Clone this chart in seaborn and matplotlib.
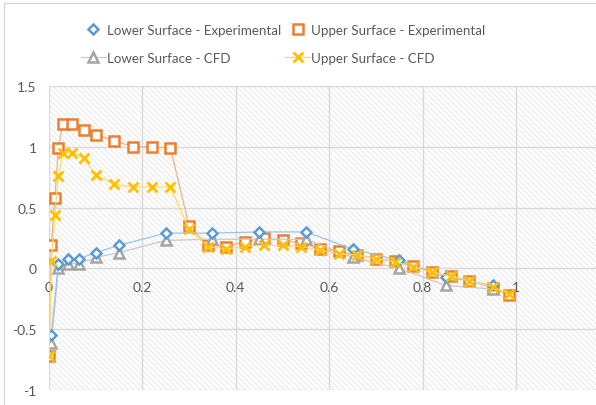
import matplotlib
matplotlib.use("Agg")
import matplotlib.pyplot as plt
import seaborn as sns
import numpy as np
from matplotlib.lines import Line2D
from matplotlib.patches import Rectangle

# ---- data ----
upper_x = [0.0, 0.005, 0.0125, 0.02, 0.03, 0.05, 0.075, 0.1, 0.14, 0.18, 0.22, 0.26,
           0.30, 0.34, 0.38, 0.42, 0.46, 0.50, 0.54, 0.58, 0.62, 0.66, 0.70, 0.74,
           0.78, 0.82, 0.86, 0.90, 0.95, 0.985]
upper_exp = [-0.72, 0.19, 0.58, 0.99, 1.19, 1.19, 1.14, 1.10, 1.05, 1.00, 1.00, 0.99,
             0.35, 0.19, 0.18, 0.22, 0.25, 0.23, 0.21, 0.16, 0.14, 0.11, 0.08, 0.06,
             0.02, -0.03, -0.065, -0.10, -0.16, -0.22]
upper_cfd = [-0.72, 0.06, 0.44, 0.76, 0.95, 0.95, 0.91, 0.77, 0.69, 0.67, 0.67, 0.67,
             0.32, 0.18, 0.16, 0.18, 0.19, 0.19, 0.18, 0.15, 0.12, 0.11, 0.08, 0.055,
             0.01, -0.03, -0.065, -0.10, -0.15, -0.21]
lower_x = [0.005, 0.02, 0.04, 0.065, 0.1, 0.15, 0.25, 0.35, 0.45, 0.55, 0.65, 0.75, 0.85, 0.95]
lower_exp = [-0.55, 0.04, 0.08, 0.08, 0.13, 0.19, 0.29, 0.29, 0.30, 0.30, 0.16, 0.065, -0.07, -0.14]
lower_cfd = [-0.615, 0.0, 0.04, 0.04, 0.09, 0.13, 0.23, 0.24, 0.24, 0.24, 0.09, 0.0, -0.14, -0.17]

labels = ["Lower Surface - Experimental", "Upper Surface - Experimental",
          "Lower Surface - CFD", "Upper Surface - CFD"]
x_ticks = [0, 0.2, 0.4, 0.6, 0.8, 1]
x_tick_labels = ["0", "0.2", "0.4", "0.6", "0.8", "1"]
y_ticks = [-1, -0.5, 0, 0.5, 1, 1.5]
y_tick_labels = ["-1", "-0.5", "0", "0.5", "1", "1.5"]

# ---- style ----
sns.set_style("white")
plt.rcParams['font.family'] = ['Lato', 'DejaVu Sans']
plt.rcParams['hatch.linewidth'] = 0.7

BLUE = "#5B9BD5"
ORANGE = "#ED7D31"
GRAY = "#A5A5A5"
YELLOW = "#FFC000"
TXT = "#595959"

fig = plt.figure(figsize=(5.96, 4.06), dpi=100)
ax = fig.add_axes([49/596, 1-391/406, 1-49/596, (391-87)/406])

# hatched plot-area background
bg = Rectangle((0, 0), 1, 1, transform=ax.transAxes, facecolor="white",
               edgecolor="#e8e8e8", hatch="\\\\\\\\\\\\", linewidth=0, zorder=0)
ax.add_patch(bg)

# chart border (top/left visible)
fig.patches.append(Rectangle((4/596, -0.1), 1.2, 1-4/406+0.1, transform=fig.transFigure,
                             fill=False, edgecolor="#d9d9d9", linewidth=1))

styles = {
    "le": dict(marker="D", markersize=5.5, markerfacecolor="white", markeredgecolor=BLUE,
               markeredgewidth=1.8),
    "ue": dict(marker="s", markersize=7, markerfacecolor="white", markeredgecolor=ORANGE,
               markeredgewidth=1.8),
    "lc": dict(marker="^", markersize=6.5, markerfacecolor="white", markeredgecolor=GRAY,
               markeredgewidth=1.8),
    "uc": dict(marker="x", markersize=7, markeredgecolor=YELLOW, markeredgewidth=2),
}

sns.lineplot(x=lower_x, y=lower_exp, sort=False, ax=ax, color="#9DC3E6", lw=0.9,
             zorder=4, **styles["le"])
sns.lineplot(x=upper_x, y=upper_exp, sort=False, ax=ax, color="#F4B183", lw=0.9,
             zorder=3, **styles["ue"])
sns.lineplot(x=lower_x, y=lower_cfd, sort=False, ax=ax, color="#C9C9C9", lw=0.9,
             zorder=3.5, **styles["lc"])
sns.lineplot(x=upper_x, y=upper_cfd, sort=False, ax=ax, color="#FFD966", lw=0.9,
             zorder=5, **styles["uc"])

ax.set_xlim(0, 1 + (596-516)/467)
ax.set_ylim(-1, 1.5)
ax.set_xticks(x_ticks)
ax.set_xticklabels(x_tick_labels)
ax.set_yticks(y_ticks)
ax.set_yticklabels(y_tick_labels)
ax.grid(True, color="#d9d9d9", lw=1)
ax.set_axisbelow(True)
for s in ax.spines.values():
    s.set_visible(False)
ax.spines['bottom'].set_position(('data', 0))
ax.tick_params(axis='both', length=0, colors=TXT, labelsize=10)
ax.tick_params(axis='y', pad=9)
ax.tick_params(axis='x', pad=9)
ax.set_facecolor("none")

h_le = Line2D([], [], ls="none", **styles["le"])
h_ue = Line2D([], [], ls="none", **styles["ue"])
h_lc = Line2D([], [], color="#C9C9C9", lw=0.9, **styles["lc"])
h_uc = Line2D([], [], color="#FFD966", lw=0.9, **styles["uc"])
# column-first fill: col1 = lower, col2 = upper
fig.legend([h_le, h_lc, h_ue, h_uc], [labels[0], labels[2], labels[1], labels[3]],
           ncol=2, loc="upper left",
           bbox_to_anchor=(69/596, 1-13/406), frameon=False, fontsize=9.6,
           labelcolor=TXT, handlelength=1.85, handletextpad=0.1,
           columnspacing=0.3, labelspacing=1.2)

fig.savefig("out.png", dpi=100)
